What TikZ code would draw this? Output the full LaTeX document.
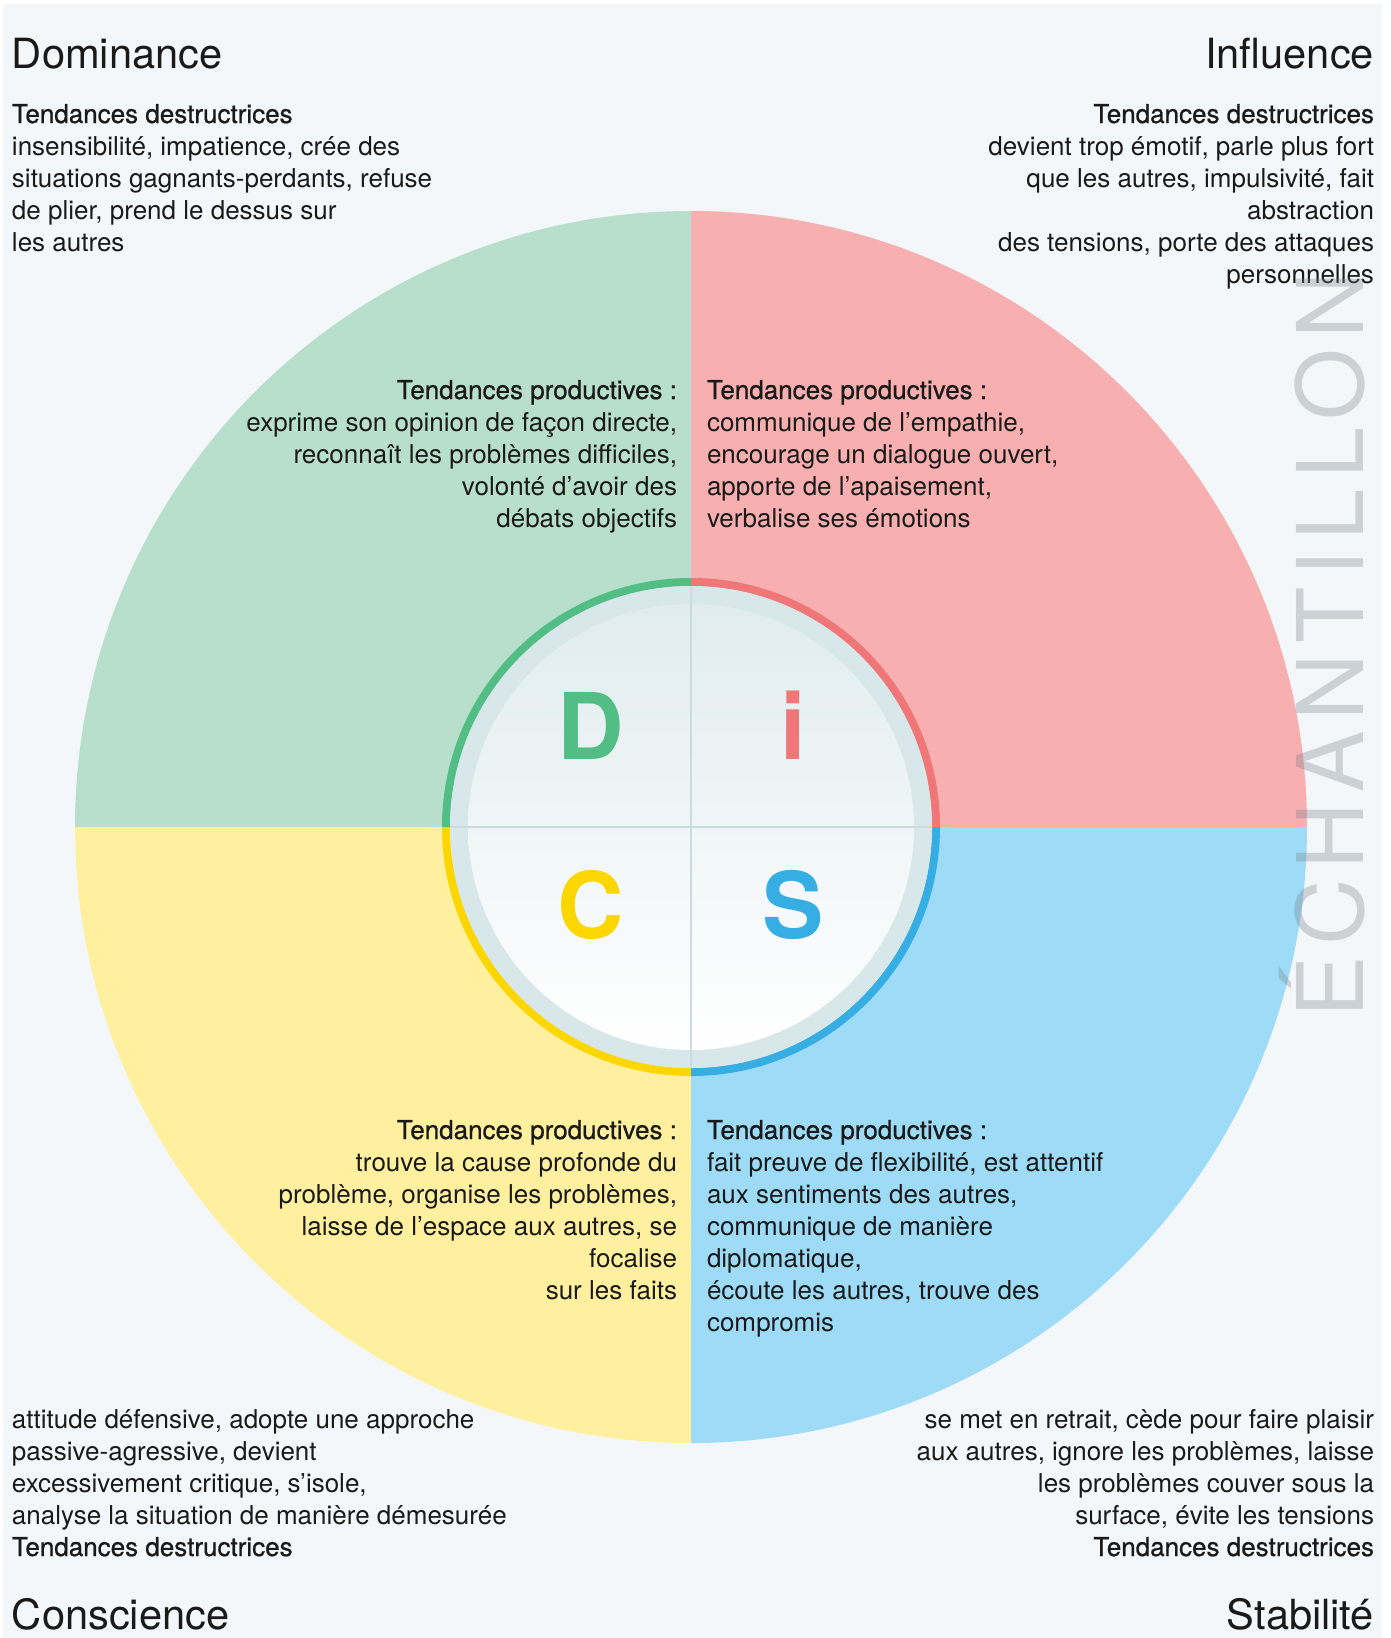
\documentclass[tikz,border=0pt]{standalone}
\usepackage{fontspec}
\setmainfont{TeX Gyre Heros}
\newfontfamily\medfont{TeX Gyre Heros}[FakeBold=0.8]
\newfontfamily\wmfont{TeX Gyre Heros}[LetterSpace=11.5]
\definecolor{bgpanel}{HTML}{F4F7F9}
\definecolor{qD}{HTML}{B7DFCB}
\definecolor{qI}{HTML}{F8AFB0}
\definecolor{qC}{HTML}{FFF0A0}
\definecolor{qS}{HTML}{9DDBF7}
\definecolor{rD}{HTML}{52BE86}
\definecolor{rI}{HTML}{F07777}
\definecolor{rC}{HTML}{FBD600}
\definecolor{rS}{HTML}{36AEE3}
\definecolor{band}{HTML}{D8E7EA}
\definecolor{disctop}{HTML}{E1ECEE}
\definecolor{divline}{HTML}{CADCE0}
\definecolor{txt}{HTML}{1A1A1A}
\definecolor{wm}{HTML}{78828A}
\tikzset{
  body/.style={font=\fontsize{26}{32}\selectfont, text=txt, inner sep=0pt, outer sep=0pt},
  titletext/.style={font=\fontsize{41.6}{48}\selectfont, text=txt, inner sep=0pt, outer sep=0pt},
  bigletter/.style={font=\fontsize{92}{92}\selectfont\bfseries, inner sep=0pt, anchor=base},
  ringarc/.style={line width=8pt},
}
\begin{document}
\begin{tikzpicture}[x=1pt,y=-1pt]
\useasboundingbox (0,0) rectangle (1390,1638);
\fill[white] (0,0) rectangle (1390,1638);
\fill[bgpanel] (3,4) rectangle (1382,1638);
\coordinate (c) at (691,827);
% quadrants
\begin{scope}\clip (c) rectangle ++(-700,-700); \fill[qD] (c) circle (616); \end{scope}
\begin{scope}\clip (c) rectangle ++(700,-700); \fill[qI] (c) circle (616); \end{scope}
\begin{scope}\clip (c) rectangle ++(-700,700); \fill[qC] (c) circle (616); \end{scope}
\begin{scope}\clip (c) rectangle ++(700,700); \fill[qS] (c) circle (616); \end{scope}
% ring
\begin{scope}\clip (c) rectangle ++(-300,-300); \draw[ringarc,rD] (c) circle (245); \end{scope}
\begin{scope}\clip (c) rectangle ++(300,-300); \draw[ringarc,rI] (c) circle (245); \end{scope}
\begin{scope}\clip (c) rectangle ++(-300,300); \draw[ringarc,rC] (c) circle (245); \end{scope}
\begin{scope}\clip (c) rectangle ++(300,300); \draw[ringarc,rS] (c) circle (245); \end{scope}
\fill[band] (c) circle (241);
\shade[top color=disctop, bottom color=white] (c) circle (223);
\coordinate (hl) at (450,827); \coordinate (hr) at (932,827);
\coordinate (vt) at (691,586); \coordinate (vb) at (691,1068);
\draw[divline, line width=1.5pt] (hl) -- (hr);
\draw[divline, line width=1.5pt] (vt) -- (vb);
% letters
\node[bigletter, text=rD] (D) at (591,759) {D};
\node[bigletter, text=rI] (I) at (793,759) {i};
\node[bigletter, text=rC] (C) at (591,938) {C};
\node[bigletter, text=rS] (S) at (793,938) {S};
% titles
\node[titletext, anchor=base west] (tD) at (12,68) {Dominance};
\node[titletext, anchor=base east] (tI) at (1374,68) {Influence};
\node[titletext, anchor=base west] (tC) at (12,1629) {Conscience};
\node[titletext, anchor=base east] (tS) at (1374,1629) {Stabilité};
% destructive (anchor = baseline of last line)
\node[body, anchor=base west, align=left] (dD) at (12,251) {{\medfont Tendances destructrices}\\
insensibilité, impatience, crée des\\
situations gagnants-perdants, refuse\\
de plier, prend le dessus sur\\
les autres};
\node[body, anchor=base east, align=right] (dI) at (1374,283) {{\medfont Tendances destructrices}\\
devient trop émotif, parle plus fort\\
que les autres, impulsivité, fait\\
abstraction\\
des tensions, porte des attaques\\
personnelles};
\node[body, anchor=base west, align=left] (dC) at (12,1556) {attitude défensive, adopte une approche\\
passive-agressive, devient\\
excessivement critique, s’isole,\\
analyse la situation de manière démesurée\\
{\medfont Tendances destructrices}};
\node[body, anchor=base east, align=right] (dS) at (1374,1556) {se met en retrait, cède pour faire plaisir\\
aux autres, ignore les problèmes, laisse\\
les problèmes couver sous la\\
surface, évite les tensions\\
{\medfont Tendances destructrices}};
% productive
\node[body, anchor=base east, align=right] (pD) at (677,527) {{\medfont Tendances productives :}\\
exprime son opinion de façon directe,\\
reconnaît les problèmes difficiles,\\
volonté d’avoir des\\
débats objectifs};
\node[body, anchor=base west, align=left] (pI) at (707,527) {{\medfont Tendances productives :}\\
communique de l’empathie,\\
encourage un dialogue ouvert,\\
apporte de l’apaisement,\\
verbalise ses émotions};
\node[body, anchor=base east, align=right] (pC) at (677,1299) {{\medfont Tendances productives :}\\
trouve la cause profonde du\\
problème, organise les problèmes,\\
laisse de l’espace aux autres, se\\
focalise\\
sur les faits};
\node[body, anchor=base west, align=left] (pS) at (707,1331) {{\medfont Tendances productives :}\\
fait preuve de flexibilité, est attentif\\
aux sentiments des autres,\\
communique de manière\\
diplomatique,\\
écoute les autres, trouve des\\
compromis};
% watermark
\node[rotate=90, anchor=base, inner sep=0pt, text=wm, text opacity=0.32, font=\wmfont\fontsize{92}{92}\selectfont] (wmk) at (1363,645) {ÉCHANTILLON};
\end{tikzpicture}
\end{document}
